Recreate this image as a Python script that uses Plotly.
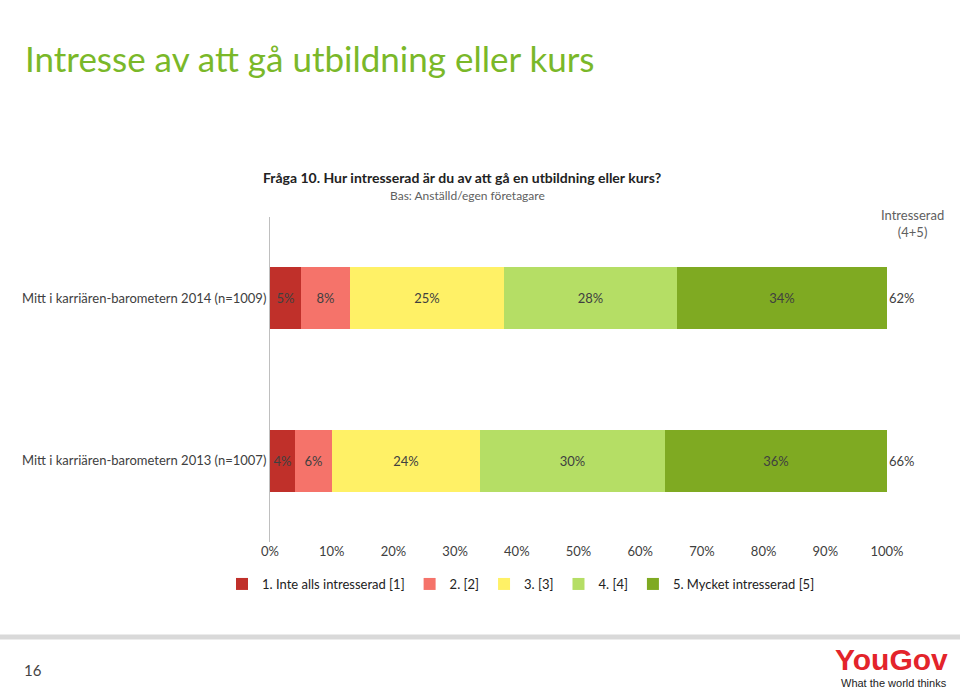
import plotly.graph_objects as go

categories = ["Mitt i karriären-barometern 2014 (n=1009)", "Mitt i karriären-barometern 2013 (n=1007)"]
series_names = ["1. Inte alls intresserad [1]", "2. [2]", "3. [3]", "4. [4]", "5. Mycket intresserad [5]"]
values = [
    [5, 4],
    [8, 6],
    [25, 24],
    [28, 30],
    [34, 36],
]
interested = ["62%", "66%"]
colors = ["#C0302A", "#F5736A", "#FFF166", "#B5DE65", "#7FAA22"]
tick_vals = [0, 10, 20, 30, 40, 50, 60, 70, 80, 90, 100]

FONT = "Lato"
TC = "#404040"

# pixel -> paper helpers (plot area 270..887 x, 215..540 y)
def px(x):
    return (x - 270) / 617

def py(y):
    return (540 - y) / 325

def note(x, y, text, size, color, xanchor="center", family=FONT):
    fig.add_annotation(xref="paper", yref="paper", x=px(x), y=py(y), text=text,
                       xanchor=xanchor, yanchor="middle", showarrow=False,
                       font=dict(size=size, color=color, family=family))

fig = go.Figure()
for name, vals, col in zip(series_names, values, colors):
    fig.add_trace(go.Bar(
        y=categories, x=vals, name=name, orientation="h",
        marker=dict(color=col, line_width=0), width=0.38,
        text=[f"{v}%" for v in vals], textposition="inside",
        insidetextanchor="middle", textfont=dict(size=13, color=TC),
    ))

for cat, txt in zip(categories, interested):
    fig.add_annotation(xref="paper", yref="y", x=px(917), y=cat, text=txt,
                       showarrow=False, font=dict(size=13, color=TC))

note(912, 221, "Intresserad<br>(4+5)", 13, "#606060")
note(462, 175, "<b>Fråga 10. Hur intresserad är du av att gå en utbildning eller kurs?</b>", 14, "#222222")
note(467, 193, "Bas: Anställd/egen företagare", 12, "#606060")
note(33, 668, "16", 15, "#444444")
note(950, 657, "<b>YouGov</b>", 30, "#E3242B", "right", "Liberation Sans")
note(949, 681, "What the world thinks", 11, "#222222", "right", "Liberation Sans")

fig.add_shape(type="line", xref="paper", yref="paper", x0=px(0), x1=px(960), y0=py(635), y1=py(635),
              line=dict(color="#D9D9D9", width=5))

fig.update_layout(
    title=dict(text="Intresse av att gå utbildning eller kurs", x=25 / 960, xanchor="left",
               y=1 - 60 / 688, yanchor="middle", font=dict(size=35, color="#7AB829", family=FONT)),
    barmode="stack",
    width=960, height=688,
    margin=dict(l=270, r=73, t=217, b=146),
    plot_bgcolor="white", paper_bgcolor="white",
    font=dict(family=FONT, color=TC, size=12),
    bargap=0,
    xaxis=dict(range=[0, 100], tickvals=tick_vals, ticktext=[f"{v}%" for v in tick_vals],
               showgrid=False, zeroline=False, showline=False, tickfont=dict(size=13)),
    yaxis=dict(autorange="reversed", showline=True, linecolor="#BFBFBF", linewidth=1,
               ticks="", ticklen=0, tickfont=dict(size=13)),
    legend=dict(orientation="h", x=px(222), xanchor="left", y=py(582), yanchor="middle",
                font=dict(size=13, color="#222222"), traceorder="normal",
                itemwidth=30, tracegroupgap=0),
)

fig.write_html("out.html", config={"displayModeBar": False},
               post_script="document.body.style.margin='0';")
